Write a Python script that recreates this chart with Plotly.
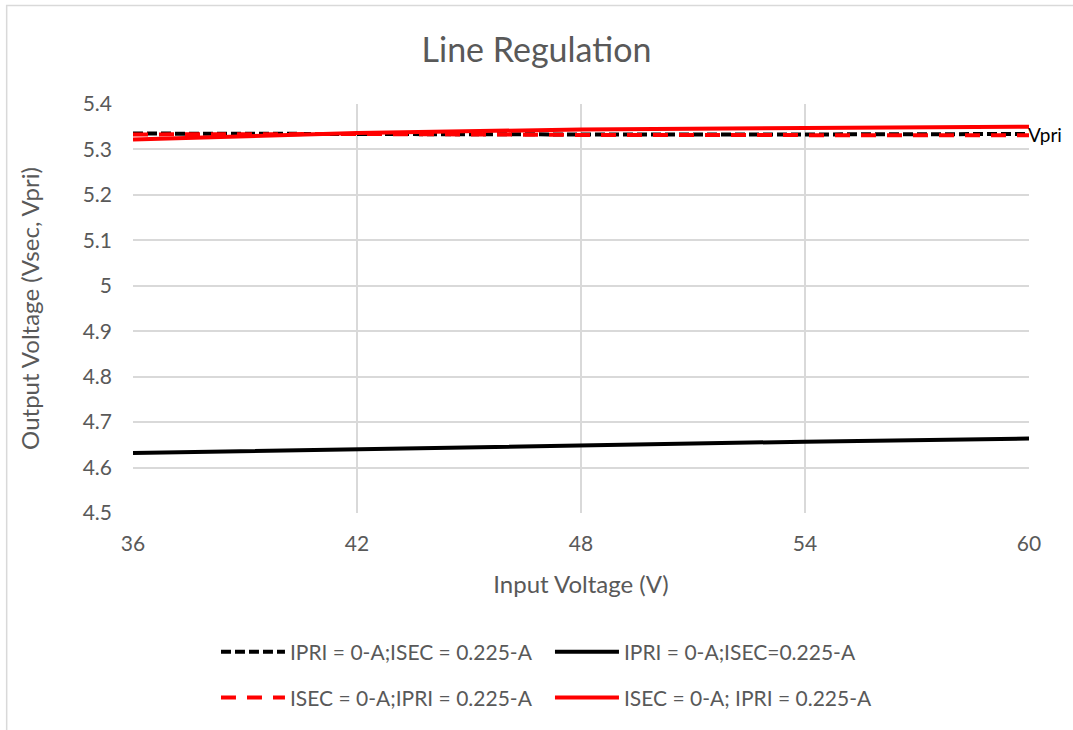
import plotly.graph_objects as go

# Input voltage sweep (V)
vin = [36, 42, 48, 54, 60]

# Output voltages (V) for each load condition
vpri_isec_load = [5.335, 5.333, 5.333, 5.333, 5.334]    # IPRI = 0-A; ISEC = 0.225-A (Vpri)
vsec_isec_load = [4.632, 4.641, 4.649, 4.657, 4.664]    # IPRI = 0-A; ISEC = 0.225-A (Vsec)
vpri_ipri_load = [5.333, 5.334, 5.332, 5.332, 5.331]    # ISEC = 0-A; IPRI = 0.225-A (dashed)
vsec_ipri_load = [5.322, 5.336, 5.344, 5.347, 5.350]    # ISEC = 0-A; IPRI = 0.225-A (solid)

x_ticks = [36, 42, 48, 54, 60]
y_ticks = [4.5, 4.6, 4.7, 4.8, 4.9, 5.0, 5.1, 5.2, 5.3, 5.4]
y_tick_text = ["4.5", "4.6", "4.7", "4.8", "4.9", "5", "5.1", "5.2", "5.3", "5.4"]

FONT = "Lato"
GREY = "#595959"
GRID = "#d9d9d9"

fig = go.Figure()

fig.add_trace(go.Scatter(
    x=vin, y=vsec_isec_load, mode="lines",
    name="IPRI = 0-A;ISEC=0.225-A",
    line=dict(color="black", width=4),
    legend="legend",
))
fig.add_trace(go.Scatter(
    x=vin, y=vpri_isec_load, mode="lines",
    name="IPRI = 0-A;ISEC = 0.225-A",
    line=dict(color="black", width=4, dash="10px,4px"),
    legend="legend",
    legendrank=1,
))
fig.add_trace(go.Scatter(
    x=vin, y=vsec_ipri_load, mode="lines",
    name="ISEC = 0-A; IPRI = 0.225-A",
    line=dict(color="#ff0000", width=4),
    legend="legend2",
    legendrank=2,
))
fig.add_trace(go.Scatter(
    x=vin, y=vpri_ipri_load, mode="lines",
    name="ISEC = 0-A;IPRI = 0.225-A",
    line=dict(color="#ff0000", width=4, dash="15px,11px"),
    legend="legend2",
    legendrank=1,
))

# series label at the end of the Vpri curve
fig.add_annotation(
    x=vin[-1], y=vpri_isec_load[-1], text="Vpri", showarrow=False,
    xanchor="left", yanchor="middle", xshift=-3, yshift=-1,
    font=dict(family=FONT, size=19, color="black"),
)

# chart frame
fig.add_shape(
    type="rect", xref="paper", yref="paper",
    x0=-0.141, x1=1.2, y0=-0.6, y1=1.241,
    line=dict(color=GRID, width=1.5), layer="below",
)

legend_common = dict(
    orientation="h", xanchor="left", yanchor="middle",
    font=dict(family=FONT, size=21, color=GREY),
    entrywidth=255, entrywidthmode="pixels",
    itemwidth=64, bgcolor="rgba(0,0,0,0)",
    traceorder="normal",
)

fig.update_layout(
    width=1073, height=730,
    margin=dict(l=133, r=44, t=104, b=215),
    paper_bgcolor="white", plot_bgcolor="white",
    title=dict(text="Line Regulation", x=0.5, xanchor="center",
               y=0.932, yanchor="middle",
               font=dict(family=FONT, size=34, color=GREY)),
    font=dict(family=FONT, color=GREY),
    xaxis=dict(
        range=[36, 60], tickvals=x_ticks, showgrid=True, gridcolor=GRID, gridwidth=1.5,
        zeroline=False, showline=False, ticks="",
        tickfont=dict(family=FONT, size=21, color=GREY), ticklabelstandoff=16,
        title=dict(text="Input Voltage (V)", font=dict(family=FONT, size=24, color=GREY), standoff=22),
    ),
    yaxis=dict(
        range=[4.5, 5.4], tickvals=y_ticks, ticktext=y_tick_text,
        showgrid=True, gridcolor=GRID, gridwidth=1.5,
        zeroline=False, showline=False, ticks="",
        tickfont=dict(family=FONT, size=21, color=GREY), ticklabelstandoff=20,
        title=dict(text="Output Voltage (Vsec, Vpri)", font=dict(family=FONT, size=24, color=GREY), standoff=36),
    ),
    legend=dict(x=0.0926, y=-0.34, **legend_common),
    legend2=dict(x=0.0926, y=-0.452, **legend_common),
)

fig.write_html("out.html")
